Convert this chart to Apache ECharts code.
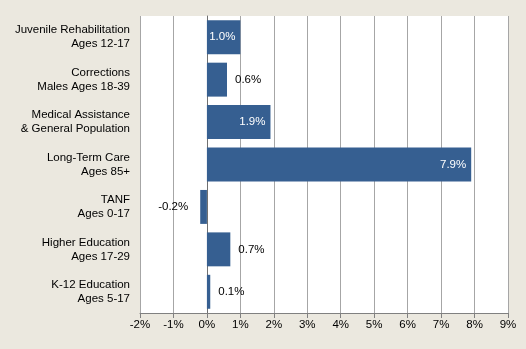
<!DOCTYPE html>
<html><head><meta charset="utf-8">
<script src="https://cdn.jsdelivr.net/npm/echarts@6/dist/echarts.min.js"></script>
<style>html,body{margin:0;padding:0;background:#ebe8df}#c{width:526px;height:349px}</style>
</head><body><div id="c"></div>
<script>
const categories = [
  "Juvenile Rehabilitation\nAges 12-17",
  "Corrections\nMales Ages 18-39",
  "Medical Assistance\n& General Population",
  "Long-Term Care\nAges 85+",
  "TANF\nAges 0-17",
  "Higher Education\nAges 17-29",
  "K-12 Education\nAges 5-17"
];
const values = [1.0, 0.6, 1.9, 7.9, -0.2, 0.7, 0.1];
const insideLabel = [true, false, true, true, false, false, false];
const xTicks = [-2, -1, 0, 1, 2, 3, 4, 5, 6, 7, 8, 9];

const font = "Liberation Sans";
const data = values.map((v, i) => {
  let label;
  if (insideLabel[i]) label = {position: 'insideRight', distance: 5, color: '#ffffff'};
  else if (v < 0) label = {position: 'left', distance: 12, color: '#000000'};
  else label = {position: 'right', distance: 8, color: '#000000'};
  return {value: v, label: label};
});

const chart = echarts.init(document.getElementById('c'));
chart.setOption({
  backgroundColor: '#ebe8df',
  animation: false,
  grid: {left: 140, right: 18, top: 16, bottom: 36, show: true, backgroundColor: '#ffffff', borderWidth: 0},
  xAxis: {
    type: 'value', min: xTicks[0], max: xTicks[xTicks.length - 1], interval: 1,
    axisLine: {show: true, onZero: false, lineStyle: {color: '#808080', width: 1}},
    axisTick: {show: true, length: 5, lineStyle: {color: '#808080'}},
    axisLabel: {formatter: v => v + '%', color: '#000', fontFamily: font, fontSize: 11.5, margin: 6},
    splitLine: {show: true, lineStyle: {color: '#a6a6a6', width: 1}}
  },
  yAxis: {
    type: 'category', data: categories, inverse: true,
    axisLine: {show: true, onZero: true, lineStyle: {color: '#707070', width: 1}},
    axisTick: {show: false},
    axisLabel: {color: '#000', fontFamily: font, fontSize: 11.5, lineHeight: 14, margin: 10, align: 'right'},
    splitLine: {show: false}
  },
  series: [{
    type: 'bar', data: data, barCategoryGap: '20%',
    itemStyle: {color: '#365f91'},
    label: {show: true, formatter: p => p.value.toFixed(1) + '%', fontFamily: font, fontSize: 11.5}
  }]
});
</script></body></html>
